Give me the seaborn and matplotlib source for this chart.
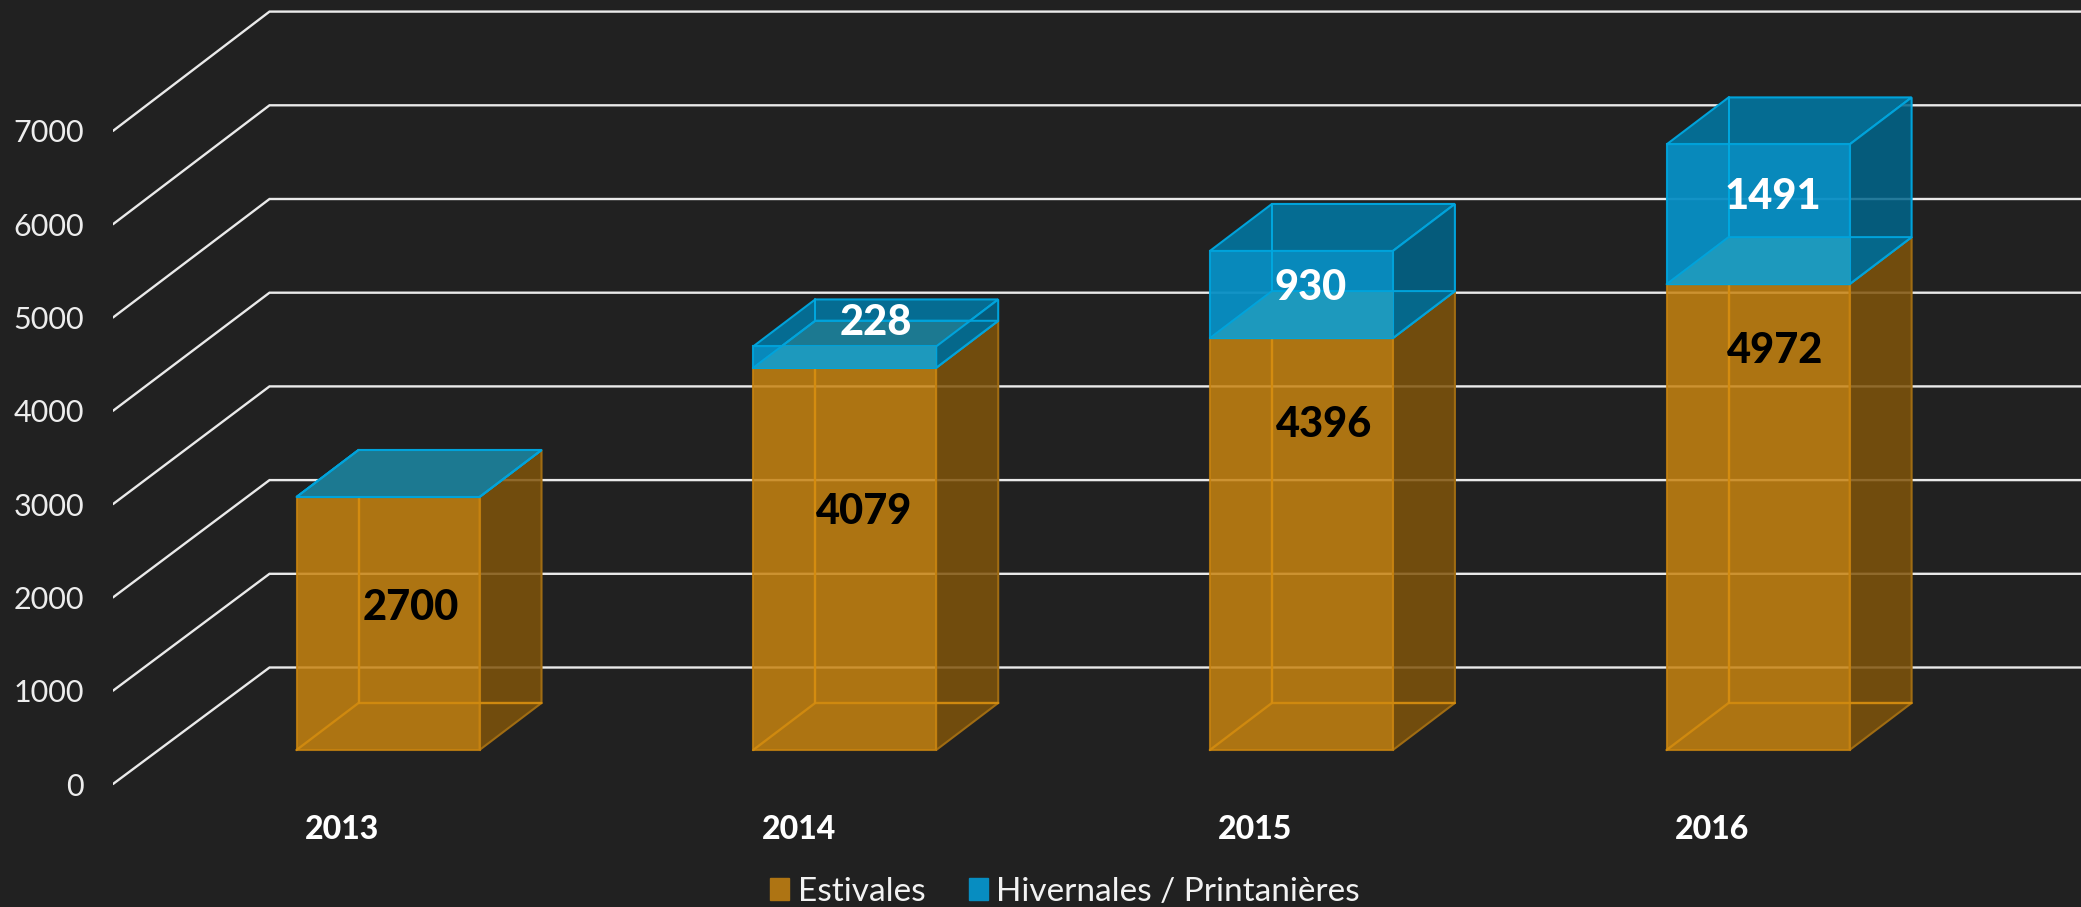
"""Stacked bars with a PowerPoint style 3D box look."""
import matplotlib.pyplot as plt
import numpy as np
import pandas as pd
import seaborn as sns
from matplotlib.patches import Patch, Polygon

years = ["2013", "2014", "2015", "2016"]
estivales = [2700, 4079, 4396, 4972]
hivernales = [0, 228, 930, 1491]
y_ticks = [0, 1000, 2000, 3000, 4000, 5000, 6000, 7000]
legend_labels = ["Estivales", "Hivernales / Printanières"]

# value label nudges, in pixels from the middle of each segment
est_shift_x = [23, 19, 23, 17]
est_shift_y = [16, 47, 119, 166]
hiv_shift_x = [0, 31, 9, 15]
hiv_shift_y = [0, 34, 7, 17]

BG = "#212121"
GRID = "#EAEAEA"
FONT = "Lato"

# layout of the picture in pixels
W, H = 2081, 907
AX_LEFT, AX_BOTTOM = 113, 790
BAR0_X, BAR_STEP, BAR_W = 388, 456.7, 183
BASE_Y, PX_PER_UNIT = 750, 0.0937

# depth, converted to data units
DX = 62 / BAR_STEP
DY = 47 / PX_PER_UNIT
WALL_FRONT = -34 / PX_PER_UNIT
WALL_BACK = 82.5 / PX_PER_UNIT
WALL_DX = 156.5 / BAR_STEP
FRONT_SCALE = 0.0933 / PX_PER_UNIT  # front ends sit a bit closer together than the back
HALF = BAR_W / BAR_STEP / 2

sns.set_theme(style="dark", rc={"figure.facecolor": BG, "axes.facecolor": BG})
plt.rcParams["font.family"] = [FONT, "DejaVu Sans"]

df = pd.DataFrame({"year": years, "estivales": estivales, "hivernales": hivernales})

fig = plt.figure(figsize=(W / 100, H / 100), dpi=100)
ax = fig.add_axes([AX_LEFT / W, (H - AX_BOTTOM) / H, 1 - AX_LEFT / W, AX_BOTTOM / H])

x_left = (AX_LEFT - BAR0_X) / BAR_STEP
x_right = (W - BAR0_X) / BAR_STEP

# floor-to-back wall lines
for v in y_ticks:
    ax.plot(
        [x_left, x_left + WALL_DX, x_right],
        [v * FRONT_SCALE + WALL_FRONT, v + WALL_BACK, v + WALL_BACK],
        color=GRID, lw=1.7, zorder=1, solid_joinstyle="miter",
    )

sns.barplot(
    data=df, x="year", y="estivales", color="#C78310", saturation=1, alpha=0.85,
    width=BAR_W / BAR_STEP, edgecolor="#C78310", linewidth=1.5, zorder=2.5, ax=ax,
)
n_est = len(ax.patches)
sns.barplot(
    data=df, x="year", y="hivernales", bottom=df["estivales"], color="#078FC4",
    saturation=1, alpha=0.95, width=BAR_W / BAR_STEP, edgecolor="#00A3DB",
    linewidth=1.5, zorder=3.5, ax=ax,
)
hiv_bars = ax.patches[n_est:]


def face(points, fc, alpha, ec, z, clip=None):
    r, g, b = plt.matplotlib.colors.to_rgb(fc)
    p = Polygon(points, closed=True, facecolor=(r, g, b, alpha), edgecolor=ec, lw=1.5, zorder=z)
    ax.add_patch(p)
    if clip is not None:
        p.set_clip_path(clip)
    return p


for i, (e, h) in enumerate(zip(estivales, hivernales)):
    xl, xr = i - HALF, i + HALF
    top = e + h

    # orange box: side face and the edges seen through the front
    face([(xr, 0), (xr + DX, DY), (xr + DX, e + DY), (xr, e)], "#80540A", 0.85, "#A06C12", 2)
    ax.plot([xl, xl + DX, xr + DX], [0, DY, DY], color="#CF890F", lw=1.7, zorder=3)
    ax.plot([xl + DX, xl + DX], [DY, e + DY], color="#D48C10", lw=1.7, zorder=3)

    # blue box, the lit floor sits over the top face like in the original
    face([(xl, top), (xr, top), (xr + DX, top + DY), (xl + DX, top + DY)],
         "#056C92", 1, "#00A3DB", 3)
    face([(xl, e), (xr, e), (xr + DX, e + DY), (xl + DX, e + DY)],
         "#1E7A91", 0.95, "#00A3DB", 3.2)
    face([(xr, e), (xr + DX, e + DY), (xr + DX, top + DY), (xr, top)],
         "#01668C", 0.85, "#00A3DB", 3.4)
    face([(xl, e), (xr, e), (xr + DX, e + DY), (xl + DX, e + DY)],
         "#1F9ABD", 0.95, "none", 3.6, clip=hiv_bars[i])
    ax.plot([xl + DX, xl + DX], [e + DY, top + DY], color="#00A8E0", lw=1.4, zorder=3.7)
    ax.plot([xl, xl + DX, xr + DX], [e, e + DY, e + DY], color="#00A3DB", lw=1.4, zorder=3.7)

    ax.annotate(
        str(e), xy=(i, e / 2), xytext=(est_shift_x[i], est_shift_y[i]),
        textcoords="offset pixels", ha="center", va="center",
        fontsize=30, fontweight="black", color="black", zorder=5,
    )
    if h > 0:
        ax.annotate(
            str(h), xy=(i, e + h / 2), xytext=(hiv_shift_x[i], hiv_shift_y[i]),
            textcoords="offset pixels", ha="center", va="center",
            fontsize=30, fontweight="black", color="white", zorder=5,
        )

ax.set_xlim(x_left, x_right)
ax.set_ylim((BASE_Y - AX_BOTTOM) / PX_PER_UNIT, BASE_Y / PX_PER_UNIT)
ax.set_xlabel("")
ax.set_ylabel("")
ax.set_xticks(np.arange(len(years)) - 46 / BAR_STEP, labels=years)
ax.set_yticks([v * FRONT_SCALE + WALL_FRONT for v in y_ticks], labels=[str(v) for v in y_ticks])
ax.tick_params(axis="x", length=0, pad=18, labelsize=23, labelcolor="white")
ax.tick_params(axis="y", length=0, pad=21, labelsize=22, labelcolor="#EDEDED")
for lab in ax.get_xticklabels():
    lab.set_fontweight("black")
sns.despine(ax=ax, left=True, bottom=True, top=True, right=True)
ax.grid(False)

handles = [
    Patch(facecolor="#AE7413", edgecolor="#AE7413"),
    Patch(facecolor="#078DC1", edgecolor="#078DC1"),
]
leg = fig.legend(
    handles, legend_labels, loc="lower center", bbox_to_anchor=(1065 / W, -30 / H),
    ncol=2, frameon=False, labelcolor="#F2F2F2",
    handlelength=0.57, handleheight=0.62, handletextpad=0.25, columnspacing=1.3,
    prop={"family": FONT, "size": 24, "weight": "normal"},
)

fig.savefig("out.png", dpi=100, facecolor=BG)
plt.close(fig)
